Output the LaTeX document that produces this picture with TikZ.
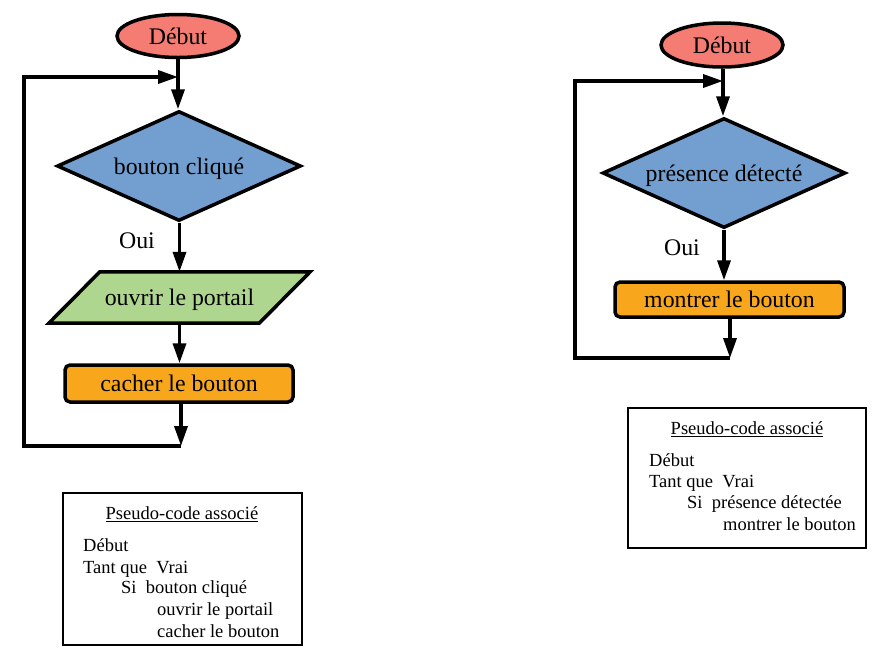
\documentclass[tikz,border=0pt]{standalone}
\usepackage{fontspec}
\setmainfont{Liberation Serif}
\usetikzlibrary{shapes.geometric,arrows.meta}
\definecolor{salmon}{RGB}{244,124,114}
\definecolor{dblue}{RGB}{114,159,207}
\definecolor{pgreen}{RGB}{175,214,142}
\definecolor{porange}{RGB}{248,166,28}
\newcommand\fcfont{\fontsize{23.8}{28}\selectfont}
\newcommand\psfont{\fontsize{18.5}{22}\selectfont}
\tikzset{
  x=1pt,y=-1pt,
  arr/.style={line width=3.5pt,-{Triangle[length=20pt,width=13pt]}},
  fctext/.style={font=\fcfont,text height=16.5pt,text depth=0pt},
  startbox/.style={ellipse,draw,line width=3.5pt,fill=salmon,inner sep=0pt,minimum width=122pt,minimum height=43pt,fctext},
  decbox/.style={diamond,draw,line width=3.5pt,fill=dblue,inner sep=0pt,aspect=2.2,fctext},
  iobox/.style={rectangle,draw=none,inner sep=0pt,minimum width=210pt,minimum height=51pt},
  actbox/.style={rectangle,rounded corners=5pt,draw,line width=3.5pt,fill=porange,inner sep=0pt,fctext},
  lbl/.style={inner sep=0pt,fctext},
  psbox/.style={rectangle,draw,line width=1.8pt,inner sep=0pt},
  pstxt/.style={inner sep=0pt,anchor=base west,font=\psfont},
  pstitle/.style={inner sep=0pt,anchor=base,font=\psfont},
}
\begin{document}
\begin{tikzpicture}
\useasboundingbox (0,0) rectangle (891,657);
% ---------- left chart ----------
\node[startbox] (start1) at (178,36) {Début};
\node[decbox,minimum width=244pt,minimum height=110pt] (dec1) at (179,166) {bouton cliqué};
\node[iobox] (io1) at (179.5,297.5) {};
\filldraw[line width=3.5pt,fill=pgreen,line join=miter]
  ([xshift=25.5pt]io1.north west) -- ([xshift=25.5pt]io1.north east)
  -- ([xshift=-25.5pt]io1.south east) -- ([xshift=-25.5pt]io1.south west) -- cycle;
\node[lbl] at (io1) {ouvrir le portail};
\node[actbox,minimum width=228pt,minimum height=37pt] (act1) at (179,383.5) {cacher le bouton};
\node[lbl] (oui1) at (137,240) {Oui};
\coordinate (j1) at (178,77);
\coordinate (b1) at (181,446);
\coordinate (c1a) at (24,446);
\coordinate (c1b) at (24,77);
\draw[arr] (start1) -- (start1 |- dec1.north);
\draw[arr] (dec1.south -| io1) -- (io1.north);
\draw[arr] (io1.south) -- (io1.south |- act1.north);
\draw[arr] (act1.south -| b1) -- (b1);
\draw[arr,line join=miter] (b1) -- (c1a) -- (c1b) -- (j1);
% ---------- right chart ----------
\node[startbox,minimum height=44pt] (start2) at (722,45) {Début};
\node[decbox,minimum width=243pt,minimum height=110pt] (dec2) at (724,173) {présence détecté};
\node[actbox,minimum width=229pt,minimum height=35pt] (act2) at (729.5,299.5) {montrer le bouton};
\node[lbl] (oui2) at (682,247) {Oui};
\coordinate (j2) at (723,81);
\coordinate (b2) at (730,358);
\coordinate (c2a) at (575,358);
\coordinate (c2b) at (575,81);
\draw[arr] (start2.south -| j2) -- (j2 |- dec2.north);
\draw[arr] (dec2.south) -- (dec2.south |- act2.north);
\draw[arr] (act2.south -| b2) -- (b2);
\draw[arr,line join=miter] (b2) -- (c2a) -- (c2b) -- (j2);
% ---------- pseudo-code boxes ----------
\node[psbox,minimum width=239pt,minimum height=152pt] (ps1) at (182.5,569) {};
\node[pstitle] (t1) at (182,519.5) {\underline{Pseudo-code associé}};
\node[pstxt] (l1a) at (83,551) {Début};
\node[pstxt] (l1b) at (83,573) {Tant que\ \ Vrai};
\node[pstxt] (l1c) at (121,593) {Si\ \ bouton cliqué};
\node[pstxt] (l1d) at (157,615) {ouvrir le portail};
\node[pstxt] (l1e) at (157,637) {cacher le bouton};
\node[psbox,minimum width=238pt,minimum height=140pt] (ps2) at (747,478) {};
\node[pstitle] (t2) at (747,434.5) {\underline{Pseudo-code associé}};
\node[pstxt] (l2a) at (649,466.5) {Début};
\node[pstxt] (l2b) at (649,487.5) {Tant que\ \ Vrai};
\node[pstxt] (l2c) at (687,508.5) {Si\ \ présence détectée};
\node[pstxt] (l2d) at (723,530) {montrer le bouton};
\end{tikzpicture}
\end{document}
